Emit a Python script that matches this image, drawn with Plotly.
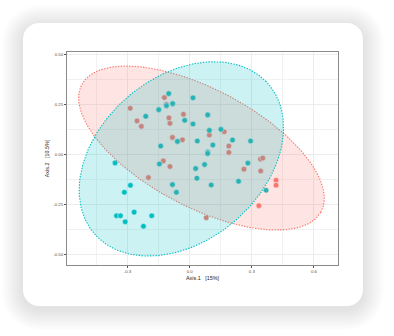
import numpy as np
import plotly.graph_objects as go

# PCoA scores, group 1 (red)
red_x = [-0.287, -0.254, -0.233, -0.122, -0.112, -0.100, -0.095, -0.083, -0.030, -0.035,
         -0.127, -0.095, -0.199, 0.095, 0.167, 0.189, 0.189, 0.262, 0.342, 0.353,
         0.343, 0.417, 0.417, 0.334, 0.080]
red_y = [0.230, 0.167, 0.140, 0.283, 0.250, 0.182, 0.155, 0.085, 0.200, 0.073,
         -0.032, -0.060, -0.115, 0.097, 0.113, 0.042, 0.010, -0.073, -0.023, -0.018,
         -0.082, -0.128, -0.153, -0.255, -0.315]

# PCoA scores, group 2 (teal)
teal_x = [-0.360, -0.286, -0.315, -0.353, -0.334, -0.311, -0.268, -0.223, -0.183, -0.212,
          -0.149, -0.101, -0.112, -0.082, -0.140, -0.146, -0.083, -0.064, -0.059, -0.024,
          0.016, 0.016, 0.037, 0.029, 0.035, 0.087, 0.095, 0.112, 0.087, 0.087,
          0.072, 0.104, 0.151, 0.207, 0.294, 0.281, 0.236, 0.369]
teal_y = [-0.042, -0.153, -0.188, -0.305, -0.305, -0.335, -0.287, -0.357, -0.305, 0.190,
          0.223, 0.303, 0.243, 0.253, 0.042, -0.047, -0.150, -0.188, 0.065, 0.170,
          0.282, 0.152, 0.067, -0.070, -0.118, 0.197, 0.120, 0.047, 0.012, 0.005,
          -0.050, -0.152, 0.125, 0.072, 0.067, -0.043, -0.133, -0.178]

# 95% confidence ellipses: centre x, centre y, semi-major, semi-minor, angle (deg)
red_ellipse = [0.057, 0.032, 0.6586, 0.291, -29.0]
teal_ellipse = [-0.040, -0.022, 0.5616, 0.4024, 43.2]

x_tickvals = [-0.3, 0.0, 0.3, 0.6]
x_ticktext = ["-0.3", "0.0", "0.3", "0.6"]
y_tickvals = [-0.5, -0.25, 0.0, 0.25, 0.5]
y_ticktext = ["-0.50", "-0.25", "0.00", "0.25", "0.50"]

RED = "#F8766D"
TEAL = "#00BFC4"

W, H = 394, 336
ML, MR, MT, MB = 67, 56, 52, 71
PW, PH = W - ML - MR, H - MT - MB


def ellipse_xy(params, n=240):
    cx, cy, a, b, ang = params
    t = np.linspace(0, 2 * np.pi, n)
    th = np.deg2rad(ang)
    x = cx + a * np.cos(th) * np.cos(t) - b * np.sin(th) * np.sin(t)
    y = cy + a * np.sin(th) * np.cos(t) + b * np.cos(th) * np.sin(t)
    return x, y


def px(x):
    return (x - ML) / PW


def py(y):
    return (H - MB - y) / PH


def rounded_rect(x0, y0, x1, y1, r):
    k = 0.5523 * r
    pts = [
        f"M{px(x0 + r)},{py(y0)}",
        f"L{px(x1 - r)},{py(y0)}",
        f"C{px(x1 - r + k)},{py(y0)} {px(x1)},{py(y0 + r - k)} {px(x1)},{py(y0 + r)}",
        f"L{px(x1)},{py(y1 - r)}",
        f"C{px(x1)},{py(y1 - r + k)} {px(x1 - r + k)},{py(y1)} {px(x1 - r)},{py(y1)}",
        f"L{px(x0 + r)},{py(y1)}",
        f"C{px(x0 + r - k)},{py(y1)} {px(x0)},{py(y1 - r + k)} {px(x0)},{py(y1 - r)}",
        f"L{px(x0)},{py(y0 + r)}",
        f"C{px(x0)},{py(y0 + r - k)} {px(x0 + r - k)},{py(y0)} {px(x0 + r)},{py(y0)}",
        "Z",
    ]
    return " ".join(pts)


fig = go.Figure()

marker_line = dict(color="white", width=0.6)
fig.add_trace(go.Scatter(x=red_x, y=red_y, mode="markers",
                         marker=dict(size=5.6, color=RED, line=marker_line),
                         hoverinfo="skip", showlegend=False))
fig.add_trace(go.Scatter(x=teal_x, y=teal_y, mode="markers",
                         marker=dict(size=5.6, color=TEAL, line=marker_line),
                         hoverinfo="skip", showlegend=False))

for params, col, fc in [(red_ellipse, RED, "rgba(248,118,109,0.2)"),
                        (teal_ellipse, TEAL, "rgba(0,191,196,0.2)")]:
    ex, ey = ellipse_xy(params)
    fig.add_trace(go.Scatter(x=ex, y=ey, mode="lines", fill="toself", fillcolor=fc,
                             line=dict(color=col, width=1.1, dash="1.4px,1.4px"),
                             hoverinfo="skip", showlegend=False))

# card with soft drop shadow
shapes = []
cx0, cy0, cx1, cy1, rad = 23, 23, 363, 306, 16
for i in range(14, 0, -1):
    g = i * 1.5
    shapes.append(dict(type="path", xref="paper", yref="paper", layer="below",
                       path=rounded_rect(cx0 - g, cy0 - g + 3, cx1 + g, cy1 + g + 3, rad + g),
                       fillcolor="rgba(0,0,0,0.0075)", line=dict(width=0)))
shapes.append(dict(type="path", xref="paper", yref="paper", layer="below",
                   path=rounded_rect(cx0, cy0, cx1, cy1, rad),
                   fillcolor="white", line=dict(width=0)))

tick_font = dict(family="Liberation Sans, Arial", size=4.3, color="#4d4d4d")
title_font = dict(family="Liberation Sans, Arial", size=5.4, color="#1a1a1a")
axis_common = dict(showline=True, mirror=True, linecolor="#8a8a8a", linewidth=1,
                   ticks="outside", ticklen=2, tickwidth=0.6, tickcolor="#555555",
                   showgrid=True, gridcolor="#ececec", gridwidth=0.8,
                   zeroline=False, tickfont=tick_font)

fig.update_layout(
    width=W, height=H, autosize=False,
    margin=dict(l=ML, r=MR, t=MT, b=MB),
    paper_bgcolor="white", plot_bgcolor="rgba(0,0,0,0)",
    shapes=shapes,
    xaxis=dict(range=[-0.592, 0.716], tickvals=x_tickvals, ticktext=x_ticktext,
               title=dict(text="Axis.1   [15%]", font=title_font, standoff=3),
               minor=dict(dtick=0.15, tick0=0.15, showgrid=True, gridcolor="#f2f2f2",
                          gridwidth=0.6, ticks=""),
               **axis_common),
    yaxis=dict(range=[-0.55, 0.51], tickvals=y_tickvals, ticktext=y_ticktext,
               title=dict(text="Axis.2   [10.5%]", font=title_font, standoff=3),
               minor=dict(dtick=0.125, tick0=0.125, showgrid=True, gridcolor="#f2f2f2",
                          gridwidth=0.6, ticks=""),
               **axis_common),
)

fig.write_html("out.html")
